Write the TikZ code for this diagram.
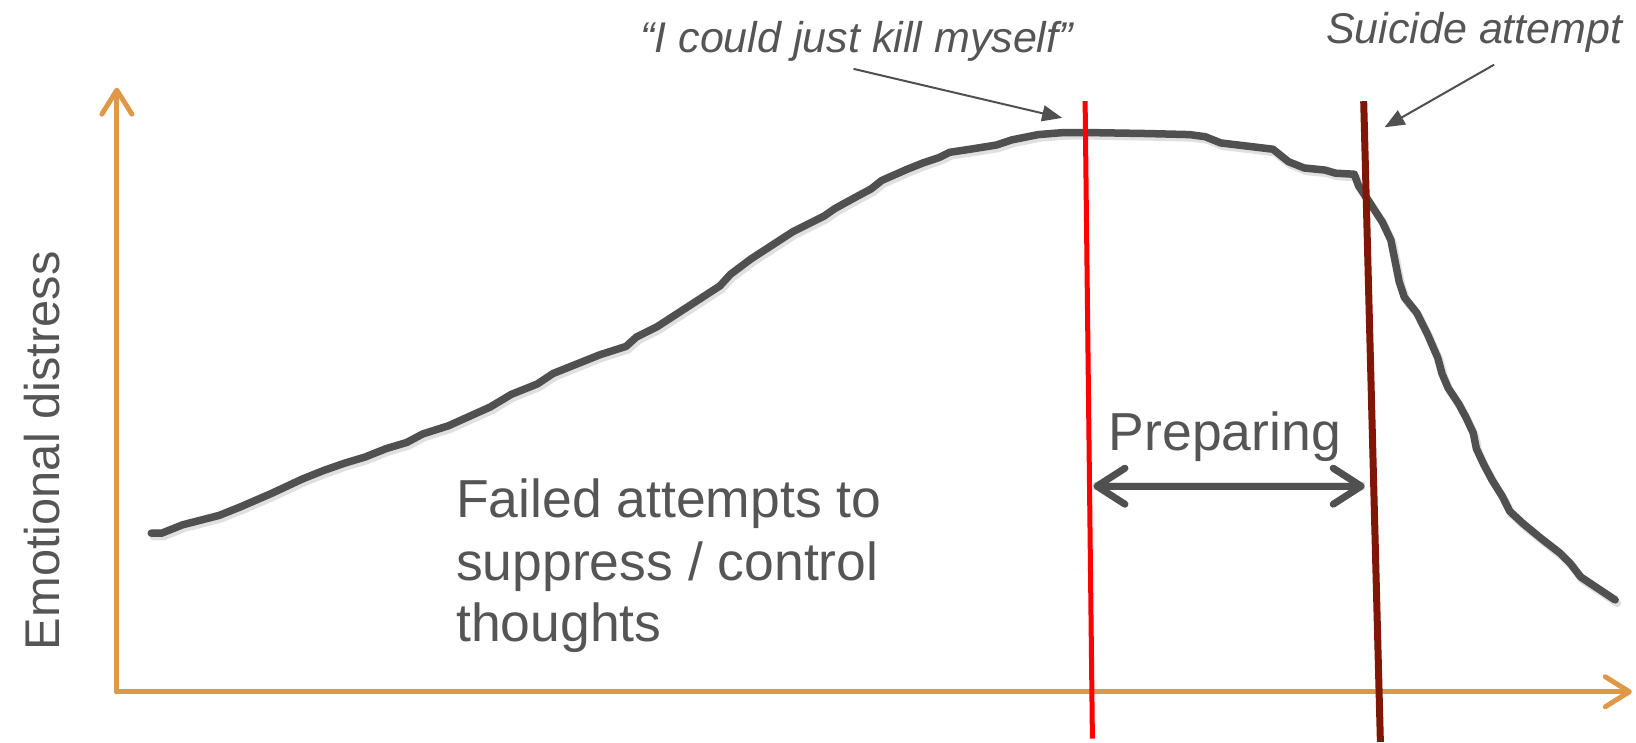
\documentclass[tikz,border=0pt]{standalone}
\usepackage{fontspec}
\setmainfont{Liberation Sans}
\usetikzlibrary{arrows.meta}
\definecolor{axisor}{RGB}{222,152,72}
\definecolor{txtgray}{RGB}{85,85,85}
\definecolor{curvegray}{RGB}{80,80,80}
\definecolor{maroon}{RGB}{128,22,6}
\tikzset{
  axisline/.style={draw=axisor, line width=5pt, line cap=round, -{Straight Barb[length=24pt,width=30pt,round]}},
  bigtext/.style={text=txtgray, font=\fontsize{53.5}{64}\selectfont, inner sep=0pt},
  itlabel/.style={text=txtgray, font=\fontsize{43}{51}\selectfont\itshape, inner sep=0pt},
  pointer/.style={draw=curvegray, line width=2pt, -{Triangle[length=20pt,width=16pt]}},
  curveline/.style={draw=curvegray, line width=7.5pt, line join=round, line cap=round},
}
\begin{document}
\begin{tikzpicture}[x=1.0434pt,y=-1.0434pt]
\useasboundingbox (0,0) rectangle (1568,712);
% axes
\coordinate (orig) at (112,663);
\coordinate (ytip) at (112,84);
\coordinate (xtip) at (1564,663);
\draw[axisline] (orig) -- (ytip);
\draw[axisline] (orig) -- (xtip);
% axis label
\node[bigtext, font=\fontsize{48.8}{58}\selectfont, rotate=90, anchor=base] (ylab) at (57,432) {Emotional distress};
% curve shadow
\draw[curveline, draw=black, opacity=0.12, line width=8pt, shift={(2,3)}]
(145,511) -- (155,511) -- (175,503) -- (210,494) -- (230,486) -- (260,473) -- (290,459) -- (310,451) -- (330,444) -- (350,438) -- (370,430) -- (390,424) -- (405,416) -- (430,408) -- (450,399) -- (470,390) -- (490,378) -- (515,368) -- (530,358) -- (560,346) -- (575,340) -- (600,332) -- (610,323) -- (630,313) -- (650,300) -- (670,287) -- (690,274) -- (700,263) -- (720,248) -- (740,235) -- (760,222) -- (790,207) -- (800,200) -- (820,189) -- (835,181) -- (845,173) -- (870,162) -- (885,156) -- (900,151) -- (910,146) -- (930,143) -- (955,139) -- (970,134) -- (995,129) -- (1020,127) -- (1040,127) -- (1100,128) -- (1140,129) -- (1155,131) -- (1170,137) -- (1195,140) -- (1220,143) -- (1235,155) -- (1250,161) -- (1270,163) -- (1280,166) -- (1298,167) -- (1302,178) -- (1312,193) -- (1325,213) -- (1333,230) -- (1337,250) -- (1341,270) -- (1346,285) -- (1358,300) -- (1368,320) -- (1378,343) -- (1382,358) -- (1388,372) -- (1398,387) -- (1405,400) -- (1412,415) -- (1415,430) -- (1422,445) -- (1430,460) -- (1440,476) -- (1447,490) -- (1460,502) -- (1477,516) -- (1495,530) -- (1505,540) -- (1515,553) -- (1530,563) -- (1548,575);
% curve
\draw[curveline]
(145,511) -- (155,511) -- (175,503) -- (210,494) -- (230,486) -- (260,473) -- (290,459) -- (310,451) -- (330,444) -- (350,438) -- (370,430) -- (390,424) -- (405,416) -- (430,408) -- (450,399) -- (470,390) -- (490,378) -- (515,368) -- (530,358) -- (560,346) -- (575,340) -- (600,332) -- (610,323) -- (630,313) -- (650,300) -- (670,287) -- (690,274) -- (700,263) -- (720,248) -- (740,235) -- (760,222) -- (790,207) -- (800,200) -- (820,189) -- (835,181) -- (845,173) -- (870,162) -- (885,156) -- (900,151) -- (910,146) -- (930,143) -- (955,139) -- (970,134) -- (995,129) -- (1020,127) -- (1040,127) -- (1100,128) -- (1140,129) -- (1155,131) -- (1170,137) -- (1195,140) -- (1220,143) -- (1235,155) -- (1250,161) -- (1270,163) -- (1280,166) -- (1298,167) -- (1302,178) -- (1312,193) -- (1325,213) -- (1333,230) -- (1337,250) -- (1341,270) -- (1346,285) -- (1358,300) -- (1368,320) -- (1378,343) -- (1382,358) -- (1388,372) -- (1398,387) -- (1405,400) -- (1412,415) -- (1415,430) -- (1422,445) -- (1430,460) -- (1440,476) -- (1447,490) -- (1460,502) -- (1477,516) -- (1495,530) -- (1505,540) -- (1515,553) -- (1530,563) -- (1548,575);
% vertical lines
\coordinate (rtop) at (1040,97);
\coordinate (rbot) at (1047,708);
\coordinate (mtop) at (1307,97);
\coordinate (mbot) at (1323,711);
\draw[red, line width=5pt] (rtop) -- (rbot);
\draw[maroon, line width=7pt] (mtop) -- (mbot);
% text
\node[bigtext, anchor=base west] (fa1) at (437,496) {Failed attempts to};
\node[bigtext, anchor=base west] (fa2) at (437,556) {suppress / control};
\node[bigtext, anchor=base west] (fa3) at (437,615) {thoughts};
\node[bigtext, anchor=base] (prep) at (1174,432) {Preparing};
% preparing arrow
\coordinate (pl) at (1048,466);
\coordinate (pr) at (1308,466);
\draw[draw=black, opacity=0.12, line width=8pt, shift={(2,3)}] (pl) -- (pr);
\draw[draw=curvegray, line width=7pt, {Straight Barb[length=28pt,width=36pt,round]}-{Straight Barb[length=28pt,width=36pt,round]}] (pl) -- (pr);
% labels with pointers
\node[itlabel, anchor=base] (quote) at (821,50) {“I could just kill myself”};
\node[itlabel, anchor=base] (sui) at (1413,42) {Suicide attempt};
\coordinate (qs) at (818,66);
\coordinate (qe) at (1018,113);
\coordinate (ss) at (1432,62);
\coordinate (se) at (1327,122);
\draw[pointer] (qs) -- (qe);
\draw[pointer] (ss) -- (se);
\end{tikzpicture}
\end{document}
